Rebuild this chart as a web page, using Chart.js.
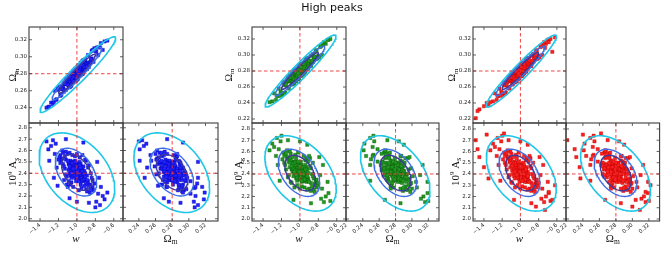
<!DOCTYPE html>
<html>
<head>
<meta charset="utf-8">
<script src="https://cdn.jsdelivr.net/npm/chart.js@4.4.1/dist/chart.umd.min.js"></script>
<style>
  html, body { margin: 0; padding: 0; background: #fff; }
  #wrap { position: relative; width: 664px; height: 277px; overflow: hidden; }
  #wrap canvas { position: absolute; left: 0; top: 0; }
  #title { position: absolute; left: 0; top: 1px; width: 664px; text-align: center;
           font: 11px "DejaVu Sans", sans-serif; color: #111; z-index: 5; }
</style>
</head>
<body>
<div id="wrap"><div id="title">High peaks</div></div>
<script>
'use strict';

// ---- axes: ranges, ticks, fiducial values (w, Omega_m, 10^9 A_s)
const W_TICKS = [-1.4, -1.2, -1.0, -0.8, -0.6];
const OM_TICKS = [0.22, 0.24, 0.26, 0.28, 0.30, 0.32];
const AS_TICKS = [2.0, 2.1, 2.2, 2.3, 2.4, 2.5, 2.6, 2.7, 2.8];
const W_RANGE = [-1.52, -0.50];
const OM_Y_RANGES = [[0.222, 0.335], [0.215, 0.335], [0.215, 0.335]];
const OM_X_RANGES = [[0.221, 0.335], [0.2195, 0.333], [0.2195, 0.333]];
const AS_RANGES = [[1.98, 2.842], [1.982, 2.853], [1.982, 2.853]];
const FIDUCIAL = [-1.0, 0.28, 2.4];

// ---- samples, triangle 1 (blue)
const T1_W = [-1.00,-0.97,-1.04,-0.94,-1.02,-0.99,-1.07,-0.95,-1.01,-0.92,
  -1.05,-0.98,-1.09,-0.96,-1.03,-0.93,-1.00,-1.06,-0.91,-1.02,
  -0.97,-1.08,-0.99,-0.94,-1.04,-0.98,-1.01,-0.95,-1.07,-0.92,
  -1.03,-1.00,-0.96,-1.06,-0.99,-1.09,-0.93,-1.02,-0.97,-1.05,
  -0.94,-1.01,-0.91,-1.08,-0.98,-1.04,-0.95,-1.00,-1.07,-0.96,
  -1.03,-0.92,-1.06,-0.99,-1.02,-0.94,-1.05,-0.97,-1.01,-0.93,
  -1.12,-0.86,-1.15,-0.89,-1.11,-0.84,-1.18,-0.88,-1.14,-0.90,
  -1.10,-0.83,-1.16,-0.87,-1.13,-0.81,-1.17,-0.89,-1.12,-0.85,
  -1.19,-0.90,-1.11,-0.82,-1.15,-0.88,-1.14,-0.84,-1.10,-0.86,
  -1.18,-0.87,-1.16,-0.89,-1.13,-0.83,-1.12,-0.85,-1.20,-0.90,
  -0.95,-1.05,-0.97,-1.07,-0.92,-1.02,-0.94,-1.04,-0.98,-1.08,
  -1.00,-0.96,-1.06,-0.91,-1.09,
  -1.24,-0.77,-1.28,-0.74,-1.22,-0.70,-1.31,-0.79,-1.26,-0.76,
  -1.21,-0.72,-1.33,-0.78,-1.25,-0.67,-1.23,-0.75,-1.30,-0.80,
  -1.12,-0.87,-1.08,-0.93,-1.00,
  -0.99,-1.02,-0.97,-1.01,-1.00,-0.96,-1.04,-0.98,-1.03,-0.95,
  -1.05,-0.99,-1.01,-0.94,-1.06,-0.98,-1.02,-0.97,-1.03,-1.00,
  -0.93,-1.07,-0.99,-1.01,-0.96,-1.04,-0.98,-1.02,-0.95,-1.05,
  -1.00,-0.97,-1.03,-0.94,-1.06,-0.99,-1.01,-0.92,-1.08,-0.98,
  -1.02,-0.96,-1.04,-1.00,-0.97,-1.03,-0.95,-1.05,-0.99,-1.01,
  -0.91,-1.09,-0.98,-1.02,-0.94,-1.06,-0.89,-1.10,-0.96,-1.04];
const T1_OM = [.286,.280,.276,.280,.281,.289,.267,.285,.284,.285,
  .280,.278,.270,.278,.280,.296,.275,.272,.296,.274,
  .290,.267,.282,.280,.278,.290,.274,.285,.277,.285,
  .283,.276,.286,.266,.284,.277,.283,.277,.289,.270,
  .293,.275,.292,.264,.285,.283,.281,.279,.277,.281,
  .283,.285,.274,.274,.281,.295,.269,.283,.284,.284,
  .272,.293,.263,.286,.270,.307,.254,.293,.269,.288,
  .274,.296,.262,.288,.268,.310,.255,.292,.271,.294,
  .264,.288,.268,.294,.265,.302,.259,.298,.273,.293,
  .265,.291,.262,.286,.268,.308,.261,.297,.261,.288,
  .292,.270,.285,.265,.292,.286,.282,.274,.287,.267,
  .286,.281,.274,.284,.272,
  .260,.302,.246,.316,.250,.318,.241,.306,.244,.311,
  .263,.308,.240,.311,.247,.319,.249,.311,.241,.307,
  .274,.290,.270,.293,.276,
  .287,.274,.285,.272,.283,.293,.270,.281,.281,.282,
  .280,.277,.280,.280,.276,.290,.273,.283,.281,.276,
  .294,.268,.282,.272,.288,.283,.277,.277,.291,.270,
  .286,.279,.277,.280,.276,.289,.274,.288,.276,.278,
  .284,.281,.276,.273,.286,.284,.281,.273,.286,.275,
  .297,.265,.283,.271,.290,.281,.288,.267,.290,.271];
const T1_AS = [2.44,2.41,2.47,2.39,2.40,2.48,2.45,2.43,2.37,2.36,
  2.50,2.34,2.43,2.46,2.41,2.33,2.39,2.48,2.40,2.51,
  2.45,2.49,2.36,2.35,2.39,2.49,2.43,2.38,2.51,2.42,
  2.46,2.34,2.40,2.44,2.45,2.48,2.37,2.36,2.50,2.41,
  2.44,2.47,2.34,2.40,2.42,2.50,2.33,2.47,2.38,2.48,
  2.44,2.39,2.36,2.40,2.45,2.41,2.47,2.37,2.33,2.46,
  2.52,2.30,2.48,2.38,2.37,2.27,2.56,2.45,2.34,2.26,
  2.57,2.34,2.53,2.29,2.44,2.31,2.51,2.24,2.59,2.40,
  2.54,2.51,2.30,2.25,2.58,2.33,2.46,2.36,2.28,2.23,
  2.49,2.47,2.60,2.32,2.55,2.28,2.39,2.26,2.52,2.30,
  2.27,2.56,2.54,2.30,2.29,2.55,2.56,2.28,2.25,2.58,
  2.57,2.30,2.32,2.52,2.33,
  2.57,2.22,2.64,2.28,2.45,2.17,2.61,2.15,2.69,2.36,
  2.29,2.20,2.68,2.50,2.36,2.23,2.66,2.12,2.51,2.10,
  2.70,2.14,2.18,2.67,2.15,
  2.41,2.44,2.42,2.39,2.46,2.38,2.43,2.45,2.40,2.40,
  2.46,2.37,2.48,2.37,2.45,2.40,2.41,2.47,2.49,2.40,
  2.39,2.47,2.44,2.41,2.43,2.38,2.36,2.47,2.36,2.42,
  2.43,2.39,2.45,2.34,2.49,2.38,2.46,2.35,2.46,2.43,
  2.38,2.41,2.48,2.37,2.44,2.42,2.41,2.49,2.42,2.44,
  2.37,2.50,2.33,2.50,2.42,2.40,2.34,2.51,2.45,2.44];

// ---- samples, triangle 2 (green)
const T2_W = [-1.00,-1.03,-0.96,-1.06,-0.98,-1.01,-0.93,-1.05,-0.99,-1.08,
  -0.95,-1.02,-0.91,-1.04,-0.97,-1.07,-1.00,-0.94,-1.09,-0.98,
  -1.03,-0.92,-1.01,-1.06,-0.96,-1.02,-0.99,-1.05,-0.93,-1.08,
  -0.97,-1.00,-1.04,-0.94,-1.01,-0.91,-1.07,-0.98,-1.03,-0.95,
  -1.06,-0.99,-1.09,-0.92,-1.02,-0.96,-1.05,-1.00,-0.93,-1.04,
  -0.97,-1.08,-0.94,-1.01,-0.98,-1.06,-0.95,-1.03,-0.99,-1.07,
  -0.88,-1.14,-0.85,-1.11,-0.89,-1.16,-0.82,-1.12,-0.86,-1.10,
  -0.90,-1.17,-0.84,-1.13,-0.87,-1.19,-0.83,-1.11,-0.88,-1.15,
  -0.81,-1.10,-0.89,-1.18,-0.85,-1.12,-0.86,-1.16,-0.90,-1.14,
  -0.82,-1.13,-0.84,-1.11,-0.87,-1.17,-0.88,-1.15,-0.80,-1.10,
  -1.05,-0.95,-1.03,-0.93,-1.08,-0.98,-1.06,-0.96,-1.02,-0.92,
  -1.00,-1.04,-0.94,-1.09,-0.91,
  -0.76,-1.23,-0.72,-1.26,-0.78,-1.30,-0.69,-1.21,-0.74,-1.24,
  -0.79,-1.28,-0.67,-1.22,-0.75,-1.33,-0.77,-1.25,-0.70,-1.20,
  -0.88,-1.13,-0.92,-1.07,-1.00,
  -1.01,-0.98,-1.03,-0.99,-1.00,-1.04,-0.96,-1.02,-0.97,-1.05,
  -0.95,-1.01,-0.99,-1.06,-0.94,-1.02,-0.98,-1.03,-0.97,-1.00,
  -1.07,-0.93,-1.01,-0.99,-1.04,-0.96,-1.02,-0.98,-1.05,-0.95,
  -1.00,-1.03,-0.97,-1.06,-0.94,-1.01,-0.99,-1.08,-0.92,-1.02,
  -0.98,-1.04,-0.96,-1.00,-1.03,-0.97,-1.05,-0.95,-1.01,-0.99,
  -1.09,-0.91,-1.02,-0.98,-1.06,-0.94,-1.11,-0.90,-1.04,-0.96];
const T2_OM = [.274,.280,.284,.280,.279,.271,.293,.275,.276,.275,
  .280,.282,.290,.282,.280,.264,.285,.288,.264,.286,
  .270,.293,.278,.280,.282,.270,.286,.275,.283,.275,
  .277,.284,.274,.294,.276,.283,.277,.283,.271,.290,
  .267,.285,.268,.296,.275,.277,.279,.281,.283,.279,
  .277,.275,.286,.286,.279,.265,.291,.277,.276,.276,
  .288,.267,.297,.274,.290,.253,.306,.267,.291,.272,
  .286,.264,.298,.272,.292,.250,.305,.268,.289,.266,
  .296,.272,.292,.266,.295,.258,.301,.262,.287,.267,
  .295,.269,.298,.274,.292,.252,.299,.263,.299,.272,
  .268,.290,.275,.295,.268,.274,.278,.286,.273,.293,
  .274,.279,.286,.276,.288,
  .300,.258,.314,.244,.310,.242,.319,.254,.316,.249,
  .297,.252,.320,.249,.313,.241,.311,.249,.319,.253,
  .286,.270,.290,.267,.284,
  .273,.286,.275,.288,.277,.267,.290,.279,.279,.278,
  .280,.283,.280,.280,.284,.270,.287,.277,.279,.284,
  .266,.292,.278,.288,.272,.277,.283,.283,.269,.290,
  .274,.281,.283,.280,.284,.271,.286,.272,.284,.282,
  .276,.279,.284,.287,.274,.276,.279,.287,.274,.285,
  .263,.295,.277,.289,.270,.279,.272,.293,.270,.289];
const T2_AS = [2.40,2.43,2.37,2.45,2.44,2.36,2.39,2.41,2.47,2.48,
  2.34,2.50,2.41,2.38,2.43,2.51,2.45,2.36,2.44,2.33,
  2.39,2.35,2.48,2.49,2.45,2.35,2.41,2.46,2.33,2.42,
  2.38,2.50,2.44,2.40,2.39,2.36,2.47,2.48,2.34,2.43,
  2.40,2.37,2.50,2.44,2.42,2.34,2.51,2.37,2.46,2.36,
  2.40,2.45,2.48,2.44,2.39,2.43,2.37,2.47,2.51,2.38,
  2.32,2.54,2.36,2.46,2.47,2.57,2.28,2.39,2.50,2.58,
  2.27,2.50,2.31,2.55,2.40,2.53,2.33,2.60,2.25,2.44,
  2.30,2.33,2.54,2.59,2.26,2.51,2.38,2.48,2.56,2.61,
  2.35,2.37,2.24,2.52,2.29,2.56,2.45,2.58,2.32,2.54,
  2.57,2.28,2.30,2.54,2.55,2.29,2.28,2.56,2.59,2.26,
  2.27,2.54,2.52,2.32,2.51,
  2.27,2.62,2.20,2.56,2.39,2.67,2.23,2.69,2.15,2.48,
  2.55,2.64,2.16,2.34,2.48,2.61,2.18,2.72,2.33,2.74,
  2.14,2.70,2.66,2.17,2.69,
  2.43,2.40,2.42,2.45,2.38,2.46,2.41,2.39,2.44,2.44,
  2.38,2.47,2.36,2.47,2.39,2.44,2.43,2.37,2.35,2.44,
  2.45,2.37,2.40,2.43,2.41,2.46,2.48,2.37,2.48,2.42,
  2.41,2.45,2.39,2.50,2.35,2.46,2.38,2.49,2.38,2.41,
  2.46,2.43,2.36,2.47,2.40,2.42,2.43,2.35,2.42,2.40,
  2.47,2.34,2.51,2.34,2.42,2.44,2.50,2.33,2.39,2.40];

// ---- samples, triangle 3 (red)
const T3_W = [-1.00,-0.97,-1.04,-0.94,-1.02,-0.99,-1.07,-0.95,-1.01,-0.92,
  -1.05,-0.98,-1.09,-0.96,-1.03,-0.93,-1.00,-1.06,-0.91,-1.02,
  -0.97,-1.08,-0.99,-0.94,-1.04,-0.98,-1.01,-0.95,-1.07,-0.92,
  -1.03,-1.00,-0.96,-1.06,-0.99,-1.09,-0.93,-1.02,-0.97,-1.05,
  -0.94,-1.01,-0.91,-1.08,-0.98,-1.04,-0.95,-1.00,-1.07,-0.96,
  -1.03,-0.92,-1.06,-0.99,-1.02,-0.94,-1.05,-0.97,-1.01,-0.93,
  -0.88,-1.14,-0.85,-1.11,-0.89,-1.16,-0.82,-1.12,-0.86,-1.10,
  -0.90,-1.17,-0.84,-1.13,-0.87,-1.19,-0.83,-1.11,-0.88,-1.15,
  -0.81,-1.10,-0.89,-1.18,-0.85,-1.12,-0.86,-1.16,-0.90,-1.14,
  -0.82,-1.13,-0.84,-1.11,-0.87,-1.17,-0.88,-1.15,-0.80,-1.10,
  -1.05,-0.95,-1.03,-0.93,-1.08,-0.98,-1.06,-0.96,-1.02,-0.92,
  -1.00,-1.04,-0.94,-1.09,-0.91,
  -0.76,-1.23,-0.72,-1.26,-0.78,-1.30,-0.69,-1.21,-0.74,-1.24,
  -0.79,-1.28,-0.67,-1.22,-0.75,-1.33,-0.77,-1.25,-0.70,-1.20,
  -0.88,-1.13,-0.92,-1.07,-1.00,
  -1.01,-0.98,-1.03,-0.99,-1.00,-1.04,-0.96,-1.02,-0.97,-1.05,
  -0.95,-1.01,-0.99,-1.06,-0.94,-1.02,-0.98,-1.03,-0.97,-1.00,
  -1.07,-0.93,-1.01,-0.99,-1.04,-0.96,-1.02,-0.98,-1.05,-0.95,
  -1.00,-1.03,-0.97,-1.06,-0.94,-1.01,-0.99,-1.08,-0.92,-1.02,
  -0.98,-1.04,-0.96,-1.00,-1.03,-0.97,-1.05,-0.95,-1.01,-0.99,
  -1.09,-0.91,-1.02,-0.98,-1.06,-0.94,-1.11,-0.90,-1.04,-0.96,
  -1.49,-1.45,-1.47,-1.40,-1.37,-0.69,-0.65,-0.62,-1.35,-0.73,-1.18,-0.83];
const T3_OM = [.286,.280,.276,.280,.281,.289,.267,.285,.284,.285,
  .280,.278,.270,.278,.280,.296,.275,.272,.296,.274,
  .290,.267,.282,.280,.278,.290,.274,.285,.277,.285,
  .283,.276,.286,.266,.284,.277,.283,.277,.289,.270,
  .293,.275,.292,.264,.285,.283,.281,.279,.277,.281,
  .283,.285,.274,.274,.281,.295,.269,.283,.284,.284,
  .288,.267,.297,.274,.290,.253,.306,.267,.291,.272,
  .286,.264,.298,.272,.292,.250,.305,.268,.289,.266,
  .296,.272,.292,.266,.295,.258,.301,.262,.287,.267,
  .295,.269,.298,.274,.292,.252,.299,.263,.299,.272,
  .268,.290,.275,.295,.268,.274,.278,.286,.273,.293,
  .274,.279,.286,.276,.288,
  .300,.258,.314,.244,.310,.242,.319,.254,.316,.249,
  .297,.252,.320,.249,.313,.241,.311,.249,.319,.253,
  .286,.270,.290,.267,.284,
  .273,.286,.275,.288,.277,.267,.290,.279,.279,.278,
  .280,.283,.280,.280,.284,.270,.287,.277,.279,.284,
  .266,.292,.278,.288,.272,.277,.283,.283,.269,.290,
  .274,.281,.283,.280,.284,.271,.286,.272,.284,.282,
  .276,.279,.284,.287,.274,.276,.279,.287,.274,.285,
  .263,.295,.277,.289,.270,.279,.272,.293,.270,.289,
  .221,.232,.230,.236,.240,.316,.304,.322,.237,.309,.262,.300];
const T3_AS = [2.44,2.41,2.47,2.39,2.40,2.48,2.45,2.43,2.37,2.36,
  2.50,2.34,2.43,2.46,2.41,2.33,2.39,2.48,2.40,2.51,
  2.45,2.49,2.36,2.35,2.39,2.49,2.43,2.38,2.51,2.42,
  2.46,2.34,2.40,2.44,2.45,2.48,2.37,2.36,2.50,2.41,
  2.44,2.47,2.34,2.40,2.42,2.50,2.33,2.47,2.38,2.48,
  2.44,2.39,2.36,2.40,2.45,2.41,2.47,2.37,2.33,2.46,
  2.32,2.54,2.36,2.46,2.47,2.57,2.28,2.39,2.50,2.58,
  2.27,2.50,2.31,2.55,2.40,2.53,2.33,2.60,2.25,2.44,
  2.30,2.33,2.54,2.59,2.26,2.51,2.38,2.48,2.56,2.61,
  2.35,2.37,2.24,2.52,2.29,2.56,2.45,2.58,2.32,2.54,
  2.57,2.28,2.30,2.54,2.55,2.29,2.28,2.56,2.59,2.26,
  2.27,2.54,2.52,2.32,2.51,
  2.27,2.62,2.20,2.56,2.39,2.67,2.23,2.69,2.15,2.48,
  2.55,2.64,2.16,2.34,2.48,2.61,2.18,2.72,2.33,2.74,
  2.14,2.70,2.66,2.17,2.69,
  2.43,2.40,2.42,2.45,2.38,2.46,2.41,2.39,2.44,2.44,
  2.38,2.47,2.36,2.47,2.39,2.44,2.43,2.37,2.35,2.44,
  2.45,2.37,2.40,2.43,2.41,2.46,2.48,2.37,2.48,2.42,
  2.41,2.45,2.39,2.50,2.35,2.46,2.38,2.49,2.38,2.41,
  2.46,2.43,2.36,2.47,2.40,2.42,2.43,2.35,2.42,2.40,
  2.47,2.34,2.51,2.34,2.42,2.44,2.50,2.33,2.39,2.40,
  2.70,2.55,2.62,2.46,2.75,2.24,2.17,2.30,2.36,2.08,2.76,2.11];

// ---- confidence contours: [centre x, centre y, half-width x, half-width y, correlation]
const T1_TOP_CONTOURS = [[-0.99, 0.279, 0.41, 0.0445, 0.96], [-1.0, 0.28, 0.27, 0.031, 0.96], [-1.0, 0.28, 0.20, 0.023, 0.96]];
const T1_BL_CONTOURS = [[-1.0, 2.405, 0.41, 0.35, -0.40], [-1.01, 2.41, 0.225, 0.21, -0.42], [-1.0, 2.408, 0.166, 0.158, -0.42]];
const T1_BR_CONTOURS = [[0.2795, 2.405, 0.0454, 0.35, -0.38], [0.2796, 2.41, 0.026, 0.21, -0.42], [0.28, 2.408, 0.019, 0.158, -0.42]];
const T2_TOP_CONTOURS = [[-0.993, 0.28, 0.385, 0.045, 0.96], [-1.0, 0.28, 0.27, 0.031, 0.96], [-1.0, 0.28, 0.20, 0.023, 0.96]];
const T2_BL_CONTOURS = [[-0.993, 2.405, 0.387, 0.335, -0.42], [-1.01, 2.41, 0.225, 0.21, -0.42], [-0.997, 2.408, 0.166, 0.158, -0.42]];
const T2_BR_CONTOURS = [[0.2796, 2.405, 0.0424, 0.335, -0.45], [0.2796, 2.41, 0.026, 0.21, -0.42], [0.28, 2.408, 0.0188, 0.158, -0.42]];
const T3_TOP_CONTOURS = [[-0.99, 0.28, 0.385, 0.045, 0.96], [-1.0, 0.28, 0.27, 0.031, 0.96], [-1.0, 0.28, 0.20, 0.023, 0.96]];
const T3_BL_CONTOURS = [[-0.99, 2.405, 0.383, 0.335, -0.42], [-1.01, 2.41, 0.225, 0.21, -0.42], [-0.997, 2.408, 0.166, 0.158, -0.42]];
const T3_BR_CONTOURS = [[0.2796, 2.405, 0.0424, 0.335, -0.45], [0.2796, 2.41, 0.026, 0.21, -0.42], [0.28, 2.408, 0.0188, 0.158, -0.42]];

// ---- styles and layout
const CONTOUR_COLORS = ['#1fc6e8', '#3d6fe4', '#3c3a9c'];
const CONTOUR_WIDTHS = [1.6, 1.4, 1.4];
const POINT_FILL = ['#2323ff', '#229a22', '#ff2020'];
const POINT_EDGE = ['#0000b4', '#0d5c0d', '#b80000'];
const COL_X = [[29, 123, 218], [252, 346, 439], [473, 566, 661]];
const ROW_Y = [27, 123, 221];
const YTITLE_X = [[12.5, 12.5], [228, 238.5], [451.5, 455]];
const XTITLE_Y = 238;

const W_LABEL = [['w', 11, 0, true]];
const OM_LABEL = [['\u03A9', 11, 0], ['m', 7.5, 2.5]];
const OM_LABEL_SMALL = [['\u03A9', 10, 0], ['m', 7, 2.5]];
const AS_LABEL = [['10', 11, 0], ['9', 7, -4.5], [' A', 11, 0], ['s', 7.5, 2.5]];

const fmt1 = v => v.toFixed(1).replace('-', '\u2212');
const fmt2 = v => v.toFixed(2);

const wrap = document.getElementById('wrap');
const tickFont = { family: 'DejaVu Sans', size: 5.5 };

function ellipsePts(c) {
    const [cx, cy, sx, sy, r] = c;
    const q = Math.sqrt(1 - r * r);
    const pts = [];
    for (let k = 0; k <= 120; k++) {
        const t = k / 120 * 2 * Math.PI;
        pts.push({ x: cx + sx * Math.cos(t), y: cy + sy * (r * Math.cos(t) + q * Math.sin(t)) });
    }
    return pts;
}

function richText(ctx, parts, cx, cy, rot) {
    ctx.save();
    ctx.translate(cx, cy);
    ctx.rotate(rot);
    ctx.fillStyle = '#111';
    ctx.textBaseline = 'alphabetic';
    const fontOf = p => (p[3] ? 'italic ' : '') + p[1] + 'px "Liberation Serif", serif';
    let total = 0;
    parts.forEach(p => { ctx.font = fontOf(p); total += ctx.measureText(p[0]).width; });
    let x = -total / 2;
    parts.forEach(p => {
        ctx.font = fontOf(p);
        ctx.fillText(p[0], x, 3.6 + p[2]);
        x += ctx.measureText(p[0]).width;
    });
    ctx.restore();
}

// frame, inward ticks, fiducial cross and axis titles
const framePlugin = {
    id: 'frame',
    afterDatasetsDraw(chart, args, opts) {
        const { ctx, chartArea: a, scales: { x, y } } = chart;
        ctx.save();
        ctx.beginPath();
        ctx.rect(a.left, a.top, a.width, a.height);
        ctx.clip();
        ctx.strokeStyle = '#ee3030';
        ctx.lineWidth = 0.9;
        ctx.setLineDash([3.5, 2.5]);
        const px = x.getPixelForValue(opts.fx), py = y.getPixelForValue(opts.fy);
        ctx.beginPath();
        ctx.moveTo(px, a.top); ctx.lineTo(px, a.bottom);
        ctx.moveTo(a.left, py); ctx.lineTo(a.right, py);
        ctx.stroke();
        ctx.restore();

        ctx.save();
        ctx.strokeStyle = '#3c3c3c';
        ctx.lineWidth = 1.1;
        ctx.strokeRect(a.left, a.top, a.width, a.height);
        ctx.lineWidth = 0.8;
        ctx.beginPath();
        x.ticks.forEach(t => {
            const p = x.getPixelForValue(t.value);
            ctx.moveTo(p, a.bottom); ctx.lineTo(p, a.bottom - 3);
            ctx.moveTo(p, a.top); ctx.lineTo(p, a.top + 3);
        });
        y.ticks.forEach(t => {
            const p = y.getPixelForValue(t.value);
            ctx.moveTo(a.left, p); ctx.lineTo(a.left + 3, p);
            ctx.moveTo(a.right, p); ctx.lineTo(a.right - 3, p);
        });
        ctx.stroke();
        ctx.restore();

        if (opts.xTitle) richText(ctx, opts.xTitle, (a.left + a.right) / 2, XTITLE_Y, 0);
        if (opts.yTitle) richText(ctx, opts.yTitle, opts.yTitleX, (a.top + a.bottom) / 2, -Math.PI / 2);
    }
};

function axis(pos, range, ticks, fmt, showLabels, size) {
    return {
        type: 'linear', position: pos, min: range[0], max: range[1],
        afterBuildTicks: s => {
            s.ticks = ticks.filter(v => v >= range[0] - 1e-9 && v <= range[1] + 1e-9).map(v => ({ value: v }));
        },
        afterFit: s => {
            if (pos === 'left') s.width = size; else s.height = size;
            s.paddingLeft = s.paddingRight = s.paddingTop = s.paddingBottom = 0;
        },
        grid: { display: false, drawTicks: false },
        border: { display: false },
        ticks: {
            display: showLabels, font: tickFont, color: '#222', padding: pos === 'left' ? 2 : 1,
            minRotation: pos === 'bottom' ? 40 : 0, maxRotation: pos === 'bottom' ? 40 : 0,
            autoSkip: false, callback: fmt
        }
    };
}

function makePanel(o) {
    const cv = document.createElement('canvas');
    cv.width = 664; cv.height = 277;
    wrap.appendChild(cv);

    const datasets = o.contours.map((c, k) => ({
        data: ellipsePts(c), showLine: true, pointRadius: 0, fill: false,
        borderColor: CONTOUR_COLORS[k], borderWidth: CONTOUR_WIDTHS[k], order: 0
    }));
    datasets.push({
        data: o.xs.map((v, i) => ({ x: v, y: o.ys[i] })),
        pointStyle: 'rect', pointRadius: 2.3, borderWidth: 0.4,
        backgroundColor: POINT_FILL[o.t], borderColor: POINT_EDGE[o.t], order: 1
    });

    const yw = o.yTitle ? o.left - (o.yTitleX - 6) : 0;
    const xh = o.xLabels ? ROW_Y[2] - o.bottom + 20 : 0;

    new Chart(cv, {
        type: 'scatter',
        data: { datasets },
        options: {
            responsive: false, animation: false, events: [],
            layout: { padding: { left: o.left - yw, right: 664 - o.right, top: o.top, bottom: 277 - o.bottom - xh } },
            plugins: {
                legend: { display: false }, tooltip: { enabled: false },
                frame: { fx: o.fx, fy: o.fy, xTitle: o.xTitle, yTitle: o.yTitle, yTitleX: o.yTitleX }
            },
            scales: {
                x: axis('bottom', o.xRange, o.xTicks, o.xFmt, o.xLabels, xh),
                y: axis('left', o.yRange, o.yTicks, o.yFmt, !!o.yTitle, yw)
            }
        },
        plugins: [framePlugin]
    });
}

const SAMPLES = [[T1_W, T1_OM, T1_AS], [T2_W, T2_OM, T2_AS], [T3_W, T3_OM, T3_AS]];
const CONTOURS = [
    [T1_TOP_CONTOURS, T1_BL_CONTOURS, T1_BR_CONTOURS],
    [T2_TOP_CONTOURS, T2_BL_CONTOURS, T2_BR_CONTOURS],
    [T3_TOP_CONTOURS, T3_BL_CONTOURS, T3_BR_CONTOURS]
];

SAMPLES.forEach(([w, om, as], t) => {
    const [x0, x1, x2] = COL_X[t];
    // top: Omega_m vs w
    makePanel({
        t, left: x0, right: x1, top: ROW_Y[0], bottom: ROW_Y[1],
        xs: w, ys: om, contours: CONTOURS[t][0],
        xRange: W_RANGE, xTicks: W_TICKS, xFmt: fmt1, xLabels: false,
        yRange: OM_Y_RANGES[t], yTicks: OM_TICKS, yFmt: fmt2,
        yTitle: OM_LABEL_SMALL, yTitleX: YTITLE_X[t][0],
        fx: FIDUCIAL[0], fy: FIDUCIAL[1]
    });
    // bottom left: A_s vs w
    makePanel({
        t, left: x0, right: x1, top: ROW_Y[1], bottom: ROW_Y[2],
        xs: w, ys: as, contours: CONTOURS[t][1],
        xRange: W_RANGE, xTicks: W_TICKS, xFmt: fmt1, xLabels: true, xTitle: W_LABEL,
        yRange: AS_RANGES[t], yTicks: AS_TICKS, yFmt: fmt1,
        yTitle: AS_LABEL, yTitleX: YTITLE_X[t][1],
        fx: FIDUCIAL[0], fy: FIDUCIAL[2]
    });
    // bottom right: A_s vs Omega_m
    makePanel({
        t, left: x1, right: x2, top: ROW_Y[1], bottom: ROW_Y[2],
        xs: om, ys: as, contours: CONTOURS[t][2],
        xRange: OM_X_RANGES[t], xTicks: OM_TICKS, xFmt: fmt2, xLabels: true, xTitle: OM_LABEL,
        yRange: AS_RANGES[t], yTicks: AS_TICKS, yFmt: fmt1,
        fx: FIDUCIAL[1], fy: FIDUCIAL[2]
    });
});
</script>
</body>
</html>
